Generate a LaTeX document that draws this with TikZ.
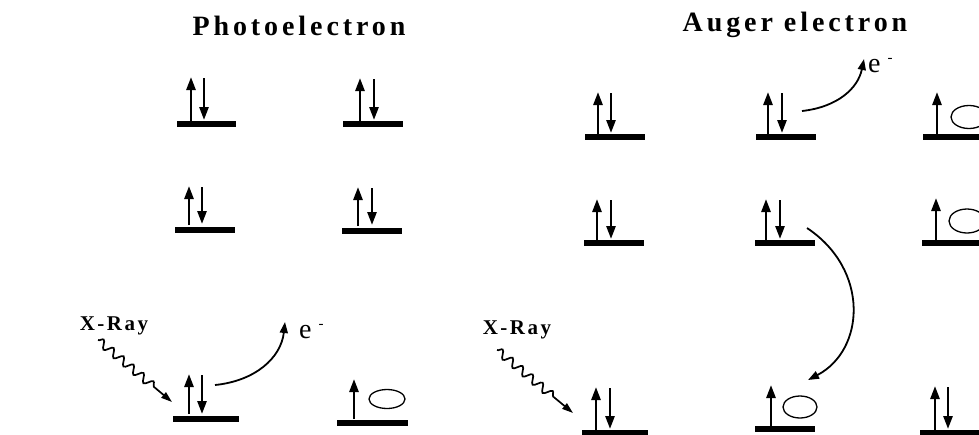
\documentclass[tikz,border=0pt]{standalone}
\usepackage{fontspec}
\setmainfont{Liberation Serif}
\newfontfamily\spacedserif[LetterSpace=14]{Liberation Serif}
\newfontfamily\spacedlabel[LetterSpace=12]{Liberation Serif}
\usetikzlibrary{arrows.meta,decorations.pathmorphing,calc}
\tikzset{
  spin/.style={line width=2.6pt, -{Triangle[length=13pt,width=9pt]}},
  barnode/.style={rectangle, fill=black, draw=none, inner sep=0pt, minimum height=6.5pt},
  hole/.style={line width=1.3pt},
  transfer/.style={line width=1.8pt, -{Triangle[length=11pt,width=8pt]}},
  xray/.style={line width=1.7pt, decorate,
    decoration={snake, amplitude=4pt, segment length=13pt, post length=20pt},
    -{Triangle[length=11pt,width=7pt]}},
  titletext/.style={inner sep=0pt, font=\spacedserif\bfseries\fontsize{28}{32}\selectfont},
  xlabel/.style={inner sep=0pt, font=\spacedlabel\bfseries\fontsize{21}{24}\selectfont},
  elabel/.style={inner sep=0pt, font=\fontsize{28}{30}\selectfont},
}
\newcommand\emin{\hspace{7pt}\raisebox{10pt}{\fontsize{15}{15}\selectfont -}}
\begin{document}
\begin{tikzpicture}[x=1pt,y=-1pt]
\useasboundingbox (0,0) rectangle (979,434);

% titles
\node[titletext] (t1) at (299,26) {Photoelectron};
\node[titletext] (t2) at (795,25) {Auger electron};

% ---------- Photoelectron panel ----------
\node[barnode, minimum width=59pt] (p1a) at (206.5,124) {};
\draw[spin] (191,121) -- (191,77);
\draw[spin] (204,78) -- (204,120);
\node[barnode, minimum width=60pt] (p1b) at (373,124) {};
\draw[spin] (360,121) -- (360,78);
\draw[spin] (374,79) -- (374,120);

\node[barnode, minimum width=60pt] (p2a) at (205,230) {};
\draw[spin] (189,225) -- (189,186);
\draw[spin] (202,187) -- (202,224);
\node[barnode, minimum width=60pt] (p2b) at (372,231) {};
\draw[spin] (358,226) -- (358,187);
\draw[spin] (372,188) -- (372,225);

\node[barnode, minimum width=66pt] (p3a) at (206,419) {};
\draw[spin] (189,414) -- (189,374);
\draw[spin] (202,375) -- (202,414);
\node[barnode, minimum width=71pt] (p3b) at (372.5,423) {};
\draw[spin] (354,419) -- (354,379);
\draw[hole] (387,399) ellipse [x radius=18pt, y radius=9.5pt];

% photoelectron emission
\coordinate (pe0) at (215,385);
\coordinate (pe1) at (285,322);
\draw[transfer] (pe0) .. controls (255,381) and (281,358) .. (pe1);
\node[elabel, anchor=base west] (e1) at (299,338) {e\emin};

% x-ray left
\node[xlabel] (xl1) at (114,326) {X-Ray};
\coordinate (xs1) at (98,340);
\coordinate (xe1) at (172,402);
\draw[xray] (xs1) -- (xe1);

% ---------- Auger panel ----------
\node[barnode, minimum width=60pt] (a1a) at (615,137) {};
\draw[spin] (598,134) -- (598,92);
\draw[spin] (611,93) -- (611,133);
\node[barnode, minimum width=60pt] (a1b) at (786,137) {};
\draw[spin] (768,134) -- (768,92);
\draw[spin] (782,93) -- (782,133);
\node[barnode, minimum width=80pt] (a1c) at (963,137) {};
\draw[spin] (937,134) -- (937,92);
\draw[hole] (969,117) ellipse [x radius=18pt, y radius=11.5pt];

\node[barnode, minimum width=60pt] (a2a) at (614,243) {};
\draw[spin] (597,240) -- (597,199);
\draw[spin] (611,200) -- (611,239);
\node[barnode, minimum width=60pt] (a2b) at (785,243) {};
\draw[spin] (766,240) -- (766,199);
\draw[spin] (780,200) -- (780,239);
\node[barnode, minimum width=80pt] (a2c) at (962,243) {};
\draw[spin] (936,240) -- (936,198);
\draw[hole] (967,221) ellipse [x radius=18pt, y radius=12pt];

\node[barnode, minimum width=66pt] (a3a) at (615,433) {};
\draw[spin] (596,430) -- (596,387);
\draw[spin] (610,388) -- (610,429);
\node[barnode, minimum width=60pt] (a3b) at (785,429) {};
\draw[spin] (771,426) -- (771,385);
\draw[hole] (800,407) ellipse [x radius=17pt, y radius=11pt];
\node[barnode, minimum width=80pt] (a3c) at (960,433) {};
\draw[spin] (935,430) -- (935,386);
\draw[spin] (948,387) -- (948,429);

% Auger electron emission
\coordinate (ae0) at (802,111);
\coordinate (ae1) at (864,59);
\draw[transfer] (ae0) .. controls (838,107) and (858,88) .. (ae1);
\node[elabel, anchor=base west] (e2) at (868,72) {e\emin};

% relaxation transfer
\coordinate (ad0) at (807,228);
\coordinate (ad1) at (808,380);
\draw[transfer] (ad0) .. controls (870,270) and (865,350) .. (ad1);

% x-ray right
\node[xlabel] (xl2) at (517,330) {X-Ray};
\coordinate (xs2) at (497,350);
\coordinate (xe2) at (573,413);
\draw[xray] (xs2) -- (xe2);
\end{tikzpicture}
\end{document}
